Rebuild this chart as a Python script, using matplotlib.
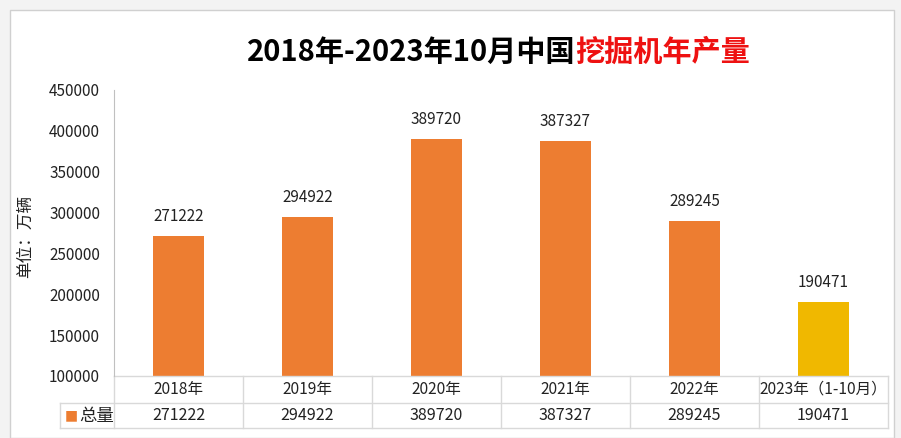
import matplotlib.pyplot as plt
from matplotlib.patches import Rectangle
from matplotlib.transforms import blended_transform_factory

plt.rcParams['font.family'] = ['Noto Sans CJK SC', 'DejaVu Sans']

# Data
categories = ["2018年", "2019年", "2020年", "2021年", "2022年", "2023年（1-10月）"]
values = [271222, 294922, 389720, 387327, 289245, 190471]
series_name = "总量"
yticks = [100000, 150000, 200000, 250000, 300000, 350000, 400000, 450000]

ORANGE = "#ED7D31"
GOLD = "#F0B800"
GRID = "#d9d9d9"
TXT = "#222222"
colors = [ORANGE] * (len(values) - 1) + [GOLD]

W, H = 901, 438
fig = plt.figure(figsize=(W / 100, H / 100), dpi=100, facecolor="#f3f3f3")

# white chart panel behind everything
fig.patches.append(Rectangle((10 / W, 0), 884 / W, 1 - 10 / H, transform=fig.transFigure,
                             facecolor="white", edgecolor="#d0d0d0", lw=1, zorder=-5))

# main axes, pixel layout: x 114..888, y 90..376
ax = fig.add_axes([114 / W, (H - 376) / H, 774 / W, 286 / H])
ax.set_zorder(2)
ax.set_facecolor("none")
x = list(range(len(categories)))
ax.bar(x, values, width=0.4, color=colors, zorder=2)
ax.set_xlim(-0.5, len(categories) - 0.5)
ax.set_ylim(yticks[0], yticks[-1])
ax.set_yticks(yticks)
ax.tick_params(axis="y", length=0, labelsize=11, pad=10, colors=TXT)
ax.set_xticks([])
for s in ["top", "right", "bottom"]:
    ax.spines[s].set_visible(False)
ax.spines["left"].set_color("#c0c0c0")

for xi, v in zip(x, values):
    ax.annotate(str(v), (xi, v), xytext=(0, 8), textcoords="offset points",
                ha="center", va="bottom", fontsize=11, color=TXT)

fig.text(25 / W, 1 - 236 / H, "单位：万辆", rotation=90, ha="center", va="center",
         fontsize=12, color=TXT)

# data table under the axes
tr = blended_transform_factory(ax.transData, ax.transAxes)
row1 = -27 / 286
row2 = -52 / 286
left = -0.5 - 54 / 129
right = len(categories) - 0.5
kw = dict(transform=tr, color=GRID, lw=1, clip_on=False)
ax.plot([-0.5, right], [0, 0], **kw)
ax.plot([left, right], [row1, row1], **kw)
ax.plot([left, right], [row2, row2], **kw)
ax.plot([left, left], [row1, row2], **kw)
for b in range(len(categories) + 1):
    ax.plot([b - 0.5, b - 0.5], [0, row2], **kw)

for xi, c, v in zip(x, categories, values):
    ax.text(xi, row1 / 2, c, transform=tr, ha="center", va="center", fontsize=11.2, color=TXT)
    ax.text(xi, (row1 + row2) / 2, str(v), transform=tr, ha="center", va="center",
            fontsize=11.5, color=TXT)

ax.text(left + 0.04, (row1 + row2) / 2, "■", transform=tr, ha="left", va="center",
        fontsize=10, color=ORANGE, family=['DejaVu Sans'])
ax.text(left + 0.15, (row1 + row2) / 2, series_name, transform=tr, ha="left", va="center",
        fontsize=12.5, color=TXT)

# title with red part
title_y = 1 - 52 / H
t1 = fig.text(247 / W, title_y, "2018年-2023年10月中国", fontsize=21, fontweight="bold",
              ha="left", va="center", color="black")
fig.canvas.draw()
bb = t1.get_window_extent()
fig.text(bb.x1 / W, title_y, "挖掘机年产量", fontsize=21, fontweight="bold",
         ha="left", va="center", color="#ee1111")

fig.savefig("out.png", dpi=100, facecolor=fig.get_facecolor())
